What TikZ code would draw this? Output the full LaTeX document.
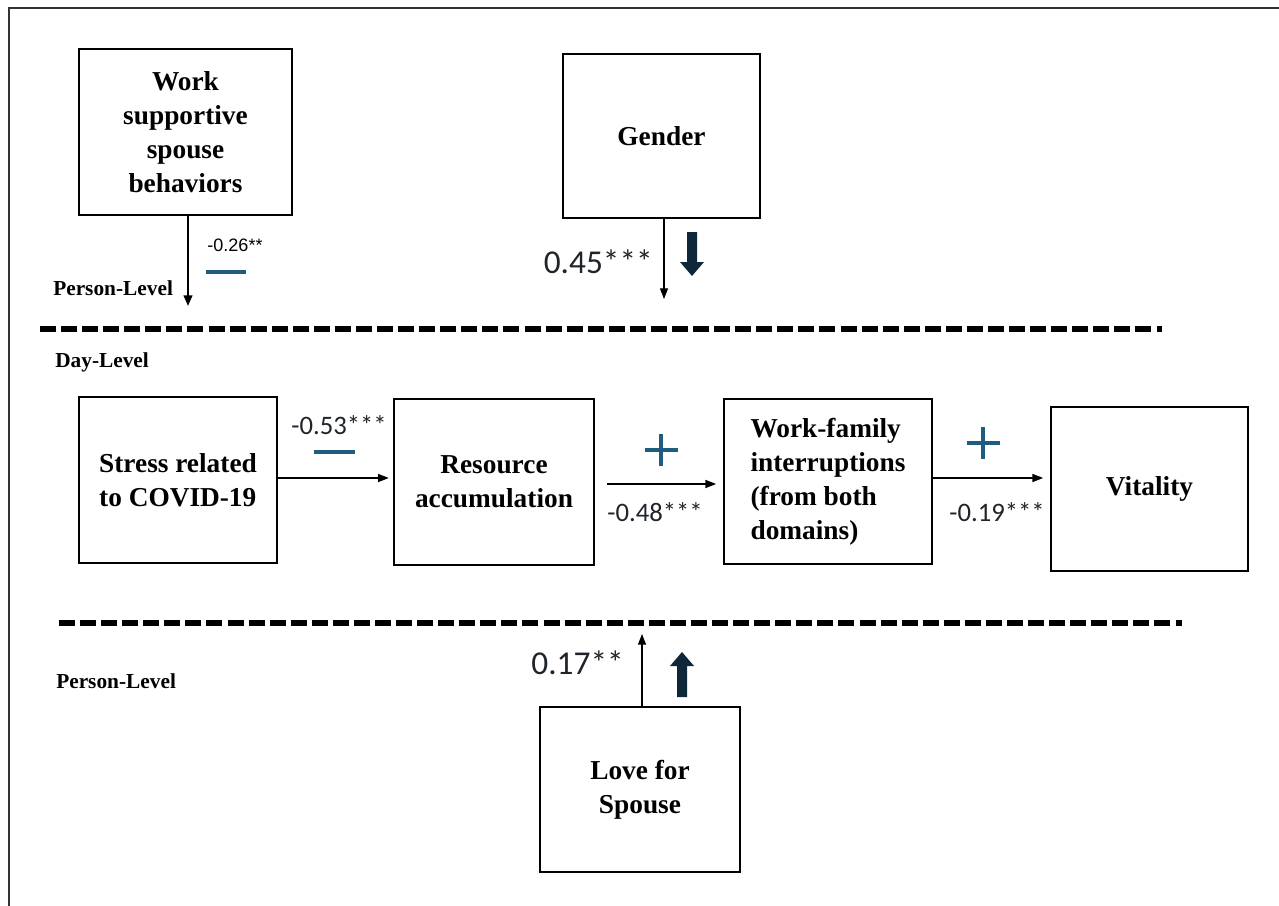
\documentclass[tikz,border=0pt]{standalone}
\usepackage{fontspec}
\setmainfont{Liberation Serif}
\newfontfamily\calfont{Carlito}
\newfontfamily\arialfont{Liberation Sans}
\usetikzlibrary{arrows.meta}
\definecolor{signblue}{RGB}{31,92,128}
\definecolor{darknavy}{RGB}{14,40,58}
\definecolor{numgray}{RGB}{30,36,42}
\tikzset{
  box/.style={draw, line width=1.8pt, inner sep=0pt, font=\fontsize{20.5}{25.5}\selectfont\bfseries, align=center},
  lvl/.style={font=\fontsize{16}{18}\selectfont\bfseries, inner sep=0pt},
  coefbig/.style={font=\calfont\fontsize{25}{28}\selectfont, text=numgray, inner sep=0pt},
  coefmid/.style={font=\calfont\fontsize{20}{24}\selectfont, text=numgray, inner sep=0pt},
  coefsmall/.style={font=\arialfont\fontsize{13.5}{16}\selectfont, inner sep=0pt},
  arr/.style={line width=0.9pt, -{Triangle[length=8pt,width=6pt]}},
  arrthick/.style={line width=1.5pt, -{Triangle[length=8pt,width=6.5pt]}},
  divider/.style={line width=4.8pt, dash pattern=on 12pt off 3.8pt},
  sign/.style={signblue, line width=3pt},
}
\begin{document}
\begin{tikzpicture}[x=0.75pt,y=-0.75pt]
\useasboundingbox (0,0) rectangle (1279,906);
% outer frame
\draw[line width=1.5pt, black!80] (9,906) -- (9,8) -- (1279,8);

% boxes
\node[box, minimum width=159.75pt, minimum height=124.5pt] (wssb) at (185.5,132) {Work\\supportive\\spouse\\behaviors};
\node[box, minimum width=147.75pt, minimum height=123pt] (gender) at (661.5,136) {Gender};
\node[box, minimum width=148.5pt, minimum height=124.5pt, align=left] (stress) at (178,480) {Stress related\\to COVID-19};
\node[box, minimum width=150pt, minimum height=124.5pt] (res) at (494,482) {Resource\\accumulation};
\node[box, minimum width=156pt, minimum height=123.75pt, align=left] (wfi) at (828,481.5) {Work-family\\interruptions\\(from both\\domains)};
\node[box, minimum width=147.75pt, minimum height=123pt] (vit) at (1149.5,489) {Vitality};
\node[box, minimum width=150pt, minimum height=123.75pt] (love) at (640,789.5) {Love for\\Spouse};

% level labels
\node[lvl, anchor=west] (pl1) at (53,288) {Person-Level};
\node[lvl, anchor=west] (dl) at (55,362) {Day-Level};
\node[lvl, anchor=west] (pl2) at (56,681) {Person-Level};

% dividers
\draw[divider] (40,329) -- (1162,329);
\draw[divider] (59,623) -- (1182,623);

% endpoints
\coordinate (wssbend) at (188,306);
\coordinate (genderend) at (664,299);
\coordinate (loveend) at (642,634);

% connectors
\draw[arrthick] (wssb.south -| wssbend) -- (wssbend);
\draw[arr] (gender.south -| genderend) -- (genderend);
\draw[arr] (love.north -| loveend) -- (loveend);
\draw[arr] (stress.east |- 0,478) -- ([xshift=-3pt]res.west |- 0,478);
\draw[arr] ([xshift=9pt]res.east |- 0,484) -- ([xshift=-5pt]wfi.west |- 0,484);
\draw[arr] (wfi.east |- 0,478) -- ([xshift=-5pt]vit.west |- 0,478);

% coefficients
\node[coefsmall] (c1) at (235,245) {-0.26**};
\node[coefbig, anchor=east] (c2) at (653,262) {0.45***};
\node[coefmid] (c3) at (339,425) {-0.53***};
\node[coefmid] (c4) at (655,512) {-0.48***};
\node[coefmid] (c5) at (997,512) {-0.19***};
\node[coefbig, anchor=east] (c6) at (624,663) {0.17**};

% signs
\draw[sign] (206,272) -- (246,272);
\draw[sign] (314,452) -- (355,452);
\draw[sign] (644.5,450) -- (677.5,450);
\draw[sign] (661,434) -- (661,466);
\draw[sign] (966.5,443) -- (999.5,443);
\draw[sign] (983,427) -- (983,459);

% block arrows
\fill[darknavy] (687,232) -- (697,232) -- (697,262) -- (704,262) -- (692,276) -- (680,262) -- (687,262) -- cycle;
\fill[darknavy] (677,697) -- (687,697) -- (687,666) -- (694,666) -- (682,652) -- (670,666) -- (677,666) -- cycle;
\end{tikzpicture}
\end{document}
